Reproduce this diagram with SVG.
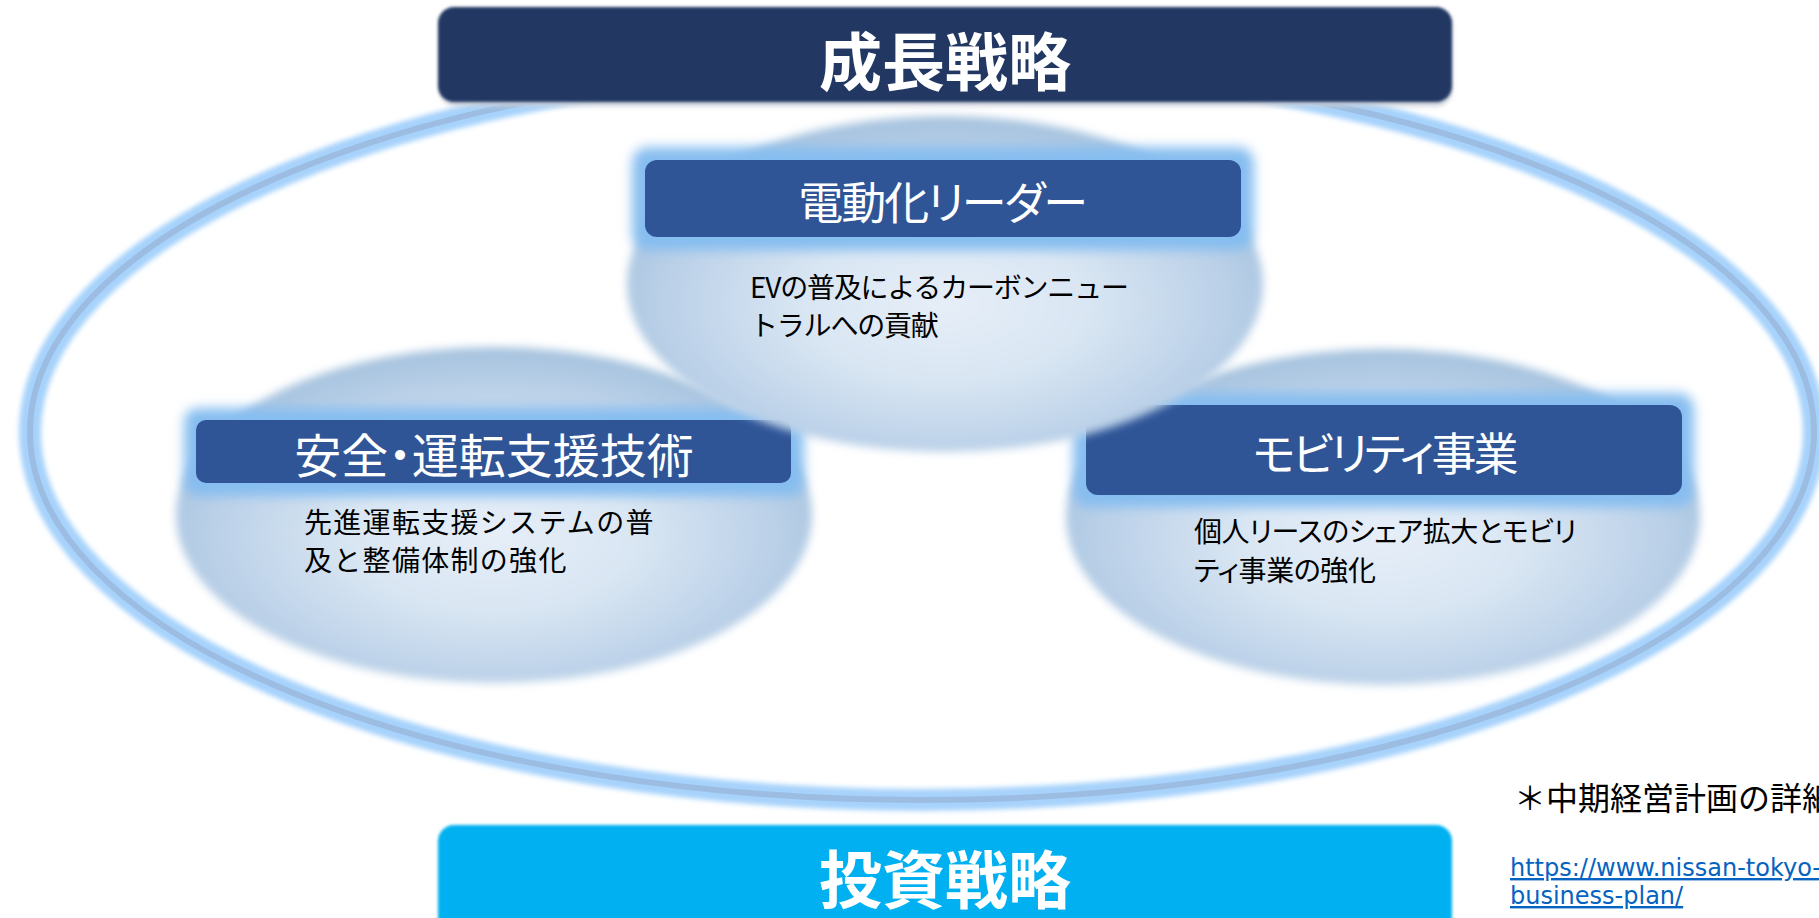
<svg xmlns="http://www.w3.org/2000/svg" width="1819" height="918" viewBox="0 0 1819 918">
<defs>
<style>
.jp{font-family:"Noto Sans CJK JP","Noto Sans CJK SC",sans-serif;}
.head{fill:#ffffff;font-size:45px;text-anchor:middle;dominant-baseline:central;}
.palt{font-feature-settings:"palt" 1;}
.body{fill:#000000;font-size:28px;}
.big{fill:#ffffff;font-size:63px;font-weight:700;text-anchor:middle;dominant-baseline:central;}
.box{fill:#2f5597;}
.glow{fill:#86bdf0;filter:url(#blur6);}
.bub{fill:url(#bubg);filter:url(#blur5);}
.link{font-family:"DejaVu Sans",Verdana,sans-serif;font-size:24px;fill:#0563c1;text-decoration:underline;}
.note{fill:#000000;font-size:32px;}
</style>
<radialGradient id="bubg" cx="0.5" cy="0.56" r="0.56">
<stop offset="0" stop-color="#e6eef8"/>
<stop offset="0.4" stop-color="#d9e6f3"/>
<stop offset="0.78" stop-color="#bbd1e8"/>
<stop offset="1" stop-color="#a5c2de"/>
</radialGradient>
<filter id="blur5" x="-10%" y="-10%" width="120%" height="120%"><feGaussianBlur stdDeviation="4"/></filter>
<filter id="blur6" x="-10%" y="-30%" width="120%" height="160%"><feGaussianBlur stdDeviation="6"/></filter>
<filter id="blur3" x="-5%" y="-5%" width="110%" height="110%"><feGaussianBlur stdDeviation="2.5"/></filter>
<filter id="soft" x="-5%" y="-20%" width="110%" height="140%"><feGaussianBlur stdDeviation="1.6"/></filter>
</defs>
<rect x="0" y="0" width="1819" height="918" fill="#ffffff"/>

<g id="ring">
<ellipse cx="922" cy="432" rx="892" ry="368" fill="none" stroke="#a6d2fb" stroke-width="22" filter="url(#blur3)"/>
<ellipse cx="922" cy="432" rx="892" ry="368" fill="none" stroke="#9cbde1" stroke-width="6"/>
</g>

<g id="connectors"></g>

<g id="node-safety">
<ellipse class="bub" cx="494" cy="515" rx="318" ry="168"/>
<rect class="glow" x="184" y="408" width="620" height="88" rx="14"/>
<rect class="box" x="196" y="420" width="595" height="63" rx="10"/>
<text class="jp head" x="494" y="452" style="font-size:47px">安全<tspan class="palt">・</tspan>運転支援技術</text>
<text class="jp body" style="letter-spacing:1.3px"><tspan x="304" y="533">先進運転支援システムの普</tspan><tspan x="304" y="571">及と整備体制の強化</tspan></text>
</g>

<g id="node-mobility">
<ellipse class="bub" cx="1383" cy="517" rx="317" ry="168"/>
<rect class="glow" x="1073" y="393" width="621" height="114" rx="16"/>
<rect class="box" x="1086" y="405" width="596" height="90" rx="12"/>
<text class="jp head palt" x="1384" y="451" style="letter-spacing:-3px">モビリティ事業</text>
<text class="jp body palt" style="letter-spacing:-0.4px"><tspan x="1194" y="542">個人リースのシェア拡大とモビリ</tspan><tspan x="1194" y="581">ティ事業の強化</tspan></text>
</g>

<g id="node-ev">
<ellipse class="bub" cx="945" cy="284" rx="318" ry="168"/>
<rect class="glow" x="632" y="147" width="622" height="103" rx="16"/>
<rect class="box" x="645" y="160" width="596" height="77" rx="12"/>
<text class="jp head palt" x="942" y="200" style="letter-spacing:-2px">電動化リーダー</text>
<text class="jp body" style="letter-spacing:-1.2px"><tspan x="750" y="298">EVの普及によるカーボンニュー</tspan><tspan x="750" y="336">トラルへの貢献</tspan></text>
</g>

<g id="node-growth">
<rect x="440" y="10" width="1012" height="96" rx="16" fill="#c9cfd9" filter="url(#blur3)"/>
<rect x="438" y="7" width="1014" height="95" rx="16" fill="#203864" filter="url(#soft)"/>
<text class="jp big" x="945" y="57">成長戦略</text>
</g>

<g id="node-invest">
<rect x="438" y="825" width="1014" height="110" rx="16" fill="#00b0f0" filter="url(#soft)"/>
<text class="jp big" x="945" y="875">投資戦略</text>
</g>

<g id="footnote">
<text class="jp note" x="1514" y="810">＊中期経営計画の詳細</text>
<text class="link"><tspan x="1510" y="876">https://www.nissan-tokyo-</tspan><tspan x="1510" y="904">business-plan/</tspan></text>
</g>
</svg>
